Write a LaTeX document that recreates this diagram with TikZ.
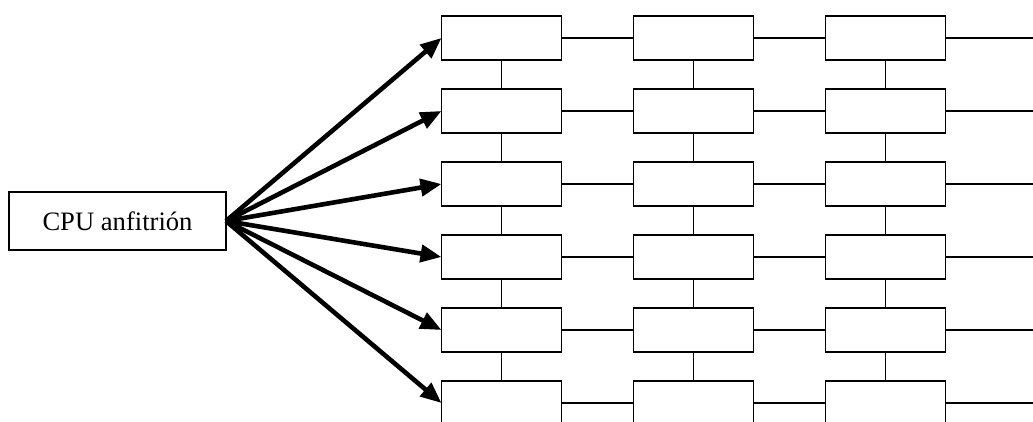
\documentclass[tikz,border=0pt]{standalone}
\usepackage{fontspec}
\setmainfont{Liberation Serif}
\usetikzlibrary{arrows.meta}
\begin{document}
\begin{tikzpicture}[x=0.5pt,y=-0.5pt,
  pe/.style={draw,line width=0.9pt,minimum width=60pt,minimum height=22pt,inner sep=0pt,outer sep=0pt},
  host/.style={draw,line width=0.9pt,minimum width=108.5pt,minimum height=29pt,inner sep=0pt,outer sep=0pt,font=\fontsize{13.3}{15}\selectfont},
  link/.style={line width=0.9pt},
  feed/.style={line width=2.3pt,-{Triangle[length=10.5pt,width=8.5pt]}}]
\useasboundingbox (0,0) rectangle (1033,422);
\clip (0,0) rectangle (1033,422);
% host processor
\node[host] (cpu) at (117.5,221) {CPU anfitrión};
% processing-element grid
\foreach \r in {1,...,6}{
  \foreach \c in {1,2,3}{
    \node[pe] (p\r\c) at ({501.5+192*(\c-1)}, {38+73*(\r-1)}) {};
  }
  \coordinate (e\r) at (1045, {38+73*(\r-1)});
}
% horizontal links
\foreach \r in {1,...,6}{
  \draw[link] (p\r1) -- (p\r2);
  \draw[link] (p\r2) -- (p\r3);
  \draw[link] (p\r3) -- (e\r);
}
% vertical links
\foreach \r in {1,...,5}{
  \pgfmathtruncatemacro{\s}{\r+1}
  \foreach \c in {1,2,3}{
    \draw[link] (p\r\c) -- (p\s\c);
  }
}
% host feeds into first column
\foreach \r in {1,...,6}{
  \draw[feed] (cpu.east) -- (p\r1.west);
}
\end{tikzpicture}
\end{document}
